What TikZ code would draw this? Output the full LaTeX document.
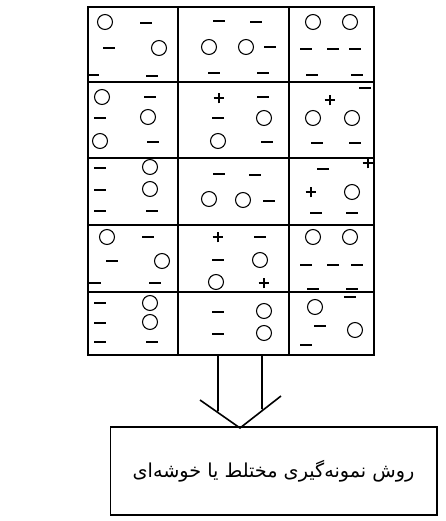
\documentclass[tikz,border=0pt]{standalone}
\usepackage{fontspec}
\usetikzlibrary{positioning,calc}
\newfontfamily\arabicfont[Script=Arabic]{DejaVu Sans}
\TeXXeTstate=1

\begin{document}
\begin{tikzpicture}[x=0.75pt,y=-0.75pt,
    gridline/.style={line width=1.2pt},
    sign/.style={line width=1.1pt},
    ring/.pic={\draw[line width=0.8pt] (0,0) circle (5.6pt);},
    minus/.pic={\draw[sign] (-4.2pt,0) -- (4.2pt,0);},
    plus/.pic={\draw[sign] (-4pt,0) -- (4pt,0) (0,-4pt) -- (0,4pt);},
    methodbox/.style={rectangle, draw, line width=1pt, minimum width=245pt, minimum height=66pt, align=center}
]
    \useasboundingbox (0,0) rectangle (446,521);

    % grid of the population
    \draw[gridline] (88,7) rectangle (374,355);
    \foreach \y in {82,158,225,292}
        \draw[gridline] (88,\y) -- (374,\y);
    \foreach \x in {178,289}
        \draw[gridline] (\x,7) -- (\x,355);

    % circles
    \foreach \x/\y in {105/22,159/48,209/47,246/47,313/22,350/22,
        102/97,148/117,100/141,264/118,218/141,313/118,352/118,
        150/167,150/189,209/199,243/200,352/192,
        107/237,162/261,260/260,216/282,313/237,350/237,
        150/303,150/322,264/311,264/333,315/307,355/330}
        \pic at (\x,\y) {ring};

    % minus signs
    \foreach \x/\y in {146/23,109/48,93/75,152/76,219/21,256/22,270/47,214/73,263/73,
        306/49,333/49,355/49,312/75,357/75,
        150/97,100/118,153/142,263/97,218/118,267/142,365/88,317/143,355/143,
        100/168,100/190,100/211,152/211,219/174,255/175,269/201,323/169,316/213,352/213,
        148/237,112/261,95/283,155/283,260/237,218/260,306/265,333/265,357/265,313/289,352/289,
        100/303,100/323,100/342,152/342,218/312,218/334,350/297,320/326,306/345}
        \pic at (\x,\y) {minus};

    % plus signs
    \foreach \x/\y in {219/98,330/100,368/163,311/192,218/237,264/283}
        \pic at (\x,\y) {plus};

    % hollow arrow
    \coordinate (tip) at (240,428);
    \draw[line width=1.2pt] (218,355) -- (218,411) (262,355) -- (262,409)
        (200,400) -- (tip) -- (281,396);

    \node[methodbox] (method) at (273.5,471)
        {\arabicfont\fontsize{14.4}{17}\selectfont\beginR روش نمونه‌گیری مختلط یا خوشه‌ای\endR};
\end{tikzpicture}
\end{document}
